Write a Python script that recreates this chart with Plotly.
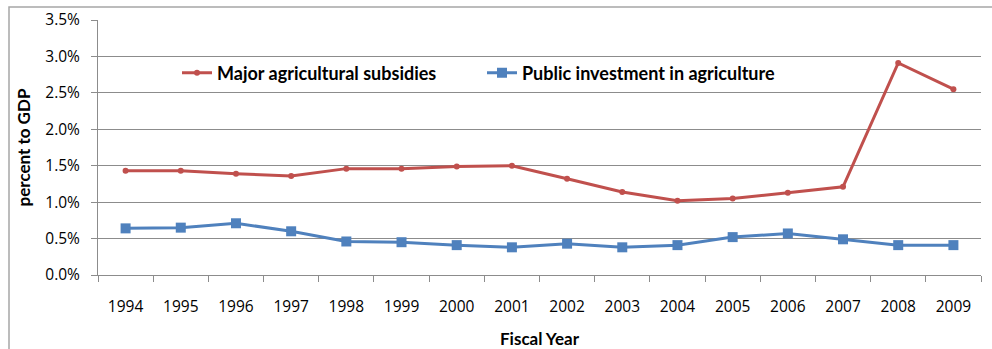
import plotly.graph_objects as go

years = ["1994", "1995", "1996", "1997", "1998", "1999", "2000", "2001",
         "2002", "2003", "2004", "2005", "2006", "2007", "2008", "2009"]
subsidies = [1.43, 1.43, 1.39, 1.36, 1.46, 1.46, 1.49, 1.50,
             1.32, 1.14, 1.02, 1.05, 1.13, 1.21, 2.91, 2.55]
investment = [0.64, 0.65, 0.71, 0.60, 0.46, 0.45, 0.41, 0.38,
              0.43, 0.38, 0.41, 0.52, 0.57, 0.49, 0.41, 0.41]
y_ticks = [0.0, 0.5, 1.0, 1.5, 2.0, 2.5, 3.0, 3.5]

W, H = 992, 349
ML, MR, MT, MB = 98, 11, 20, 74
PW, PH = W - ML - MR, H - MT - MB

TICK_FONT = "'Open Sans', Lato, sans-serif"
BOLD_FONT = "Lato, 'Open Sans', sans-serif"
GRID = "#8c8c8c"

fig = go.Figure()
fig.add_trace(go.Scatter(
    x=years, y=subsidies, name="Major agricultural subsidies",
    mode="lines+markers",
    line=dict(color="#C0504D", width=3),
    marker=dict(symbol="circle", size=6, color="#C0504D"),
))
fig.add_trace(go.Scatter(
    x=years, y=investment, name="Public investment in agriculture",
    mode="lines+markers",
    line=dict(color="#4F81BD", width=3),
    marker=dict(symbol="square", size=10, color="#4F81BD"),
))

# outer chart frame
fig.add_shape(type="rect", xref="paper", yref="paper",
              x0=(9 - ML) / PW, x1=(1000 - ML) / PW,
              y0=(H - MB - 360) / PH, y1=(H - MB - 7) / PH,
              line=dict(color="#a6a6a6", width=1.5), fillcolor="rgba(0,0,0,0)",
              layer="below")

fig.update_layout(
    width=W, height=H,
    margin=dict(l=ML, r=MR, t=MT, b=MB, autoexpand=False),
    paper_bgcolor="white", plot_bgcolor="white",
    font=dict(family=TICK_FONT, size=15.5, color="#000000"),
    showlegend=True,
    legend=dict(
        orientation="h",
        x=(177 - ML) / PW, xanchor="left",
        y=(H - MB - 73) / PH, yanchor="middle",
        bgcolor="rgba(0,0,0,0)",
        font=dict(family=BOLD_FONT, size=18, color="#000000", weight="bold"),
        entrywidth=260, entrywidthmode="pixels",
        itemwidth=30,
    ),
    xaxis=dict(
        type="category",
        automargin=False,
        showgrid=False,
        showline=True, linecolor=GRID, linewidth=1,
        ticks="outside", tickson="boundaries", ticklen=6, tickcolor=GRID,
        ticklabelstandoff=17,
        tickfont=dict(family=TICK_FONT, size=15.5),
        title=dict(text="Fiscal Year", font=dict(family=BOLD_FONT, size=17, weight="bold"),
                   standoff=19),
        range=[-0.5, 15.5],
    ),
    yaxis=dict(
        range=[0, 3.5],
        automargin=False,
        tickvals=y_ticks,
        ticktext=[f"{v:.1f}%" for v in y_ticks],
        showgrid=True, gridcolor=GRID, gridwidth=1,
        showline=True, linecolor=GRID, linewidth=1,
        zeroline=False,
        ticks="outside", ticklen=6, tickcolor=GRID,
        ticklabelstandoff=8,
        tickfont=dict(family=TICK_FONT, size=15.5),
        title=dict(text="percent to GDP", font=dict(family=BOLD_FONT, size=17, weight="bold"),
                   standoff=10),
    ),
)

fig.write_html("out.html")
